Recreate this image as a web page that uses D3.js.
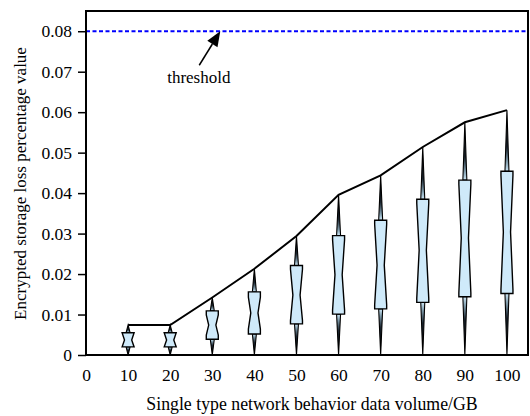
<!DOCTYPE html>
<html><head><meta charset="utf-8">
<script src="https://cdn.jsdelivr.net/npm/d3@7"></script>
<style>
html,body{margin:0;padding:0;background:#fff;}
</style></head>
<body><svg id="chart" width="530" height="416"></svg>
<script>
// ---- data ----
const xs       = [10, 20, 30, 40, 50, 60, 70, 80, 90, 100];
const maxVals  = [0.0074, 0.0074, 0.0142, 0.0213, 0.0294, 0.0396, 0.0444, 0.0514, 0.0575, 0.0605];
const q3Vals   = [0.0055, 0.0055, 0.0109, 0.0156, 0.0221, 0.0295, 0.0333, 0.0385, 0.0432, 0.0454];
const notchHi  = [0.0055, 0.0055, 0.0099, 0.0143, 0.0212, 0.0285, 0.0323, 0.0375, 0.0422, 0.0444];
const medVals  = [0.0037, 0.0037, 0.0074, 0.0104, 0.0148, 0.0198, 0.0222, 0.0259, 0.0289, 0.0304];
const notchLo  = [0.0020, 0.0020, 0.0049, 0.0064, 0.0085, 0.0111, 0.0124, 0.0140, 0.0154, 0.0162];
const q1Vals   = [0.0020, 0.0020, 0.0039, 0.0052, 0.0077, 0.0101, 0.0114, 0.0130, 0.0144, 0.0152];
const minVals  = [0, 0, 0, 0, 0, 0, 0, 0, 0, 0];
const threshold = 0.08;
const xTicks = [0, 10, 20, 30, 40, 50, 60, 70, 80, 90, 100];
const yTicks = [0, 0.01, 0.02, 0.03, 0.04, 0.05, 0.06, 0.07, 0.08];
const arrowTail = [26.9, 0.0716];
const arrowTip  = [31.9, 0.08];
const labelPos  = [26.8, 0.0672];
const xTitle = "Single type network behavior data volume/GB";
const yTitle = "Encrypted storage loss percentage value";

// ---- layout ----
const L = 86, R = 528, T = 11, B = 355;
const FONT = '"Liberation Serif"';
const FS = 17.5;
const svg = d3.select("#chart");
const x = d3.scaleLinear().domain([0, 105]).range([L, R]);
const y = d3.scaleLinear().domain([0, 0.085]).range([B, T]);

const defs = svg.append("defs");
function grad(id, tipTop) {
  const g = defs.append("linearGradient").attr("id", id)
    .attr("x1", 0).attr("y1", 0).attr("x2", 0).attr("y2", 1);
  const stops = tipTop
    ? [[0, "#000"], [0.6, "#1a2530"], [0.85, "#7f9bab"], [1, "#cfeafa"]]
    : [[0, "#cfeafa"], [0.15, "#7f9bab"], [0.4, "#1a2530"], [1, "#000"]];
  stops.forEach(s => g.append("stop").attr("offset", s[0]).attr("stop-color", s[1]));
}
grad("gTop", true);
grad("gBot", false);

// threshold
svg.append("line")
  .attr("x1", L).attr("x2", R).attr("y1", y(threshold)).attr("y2", y(threshold))
  .attr("stroke", "#0000ff").attr("stroke-width", 2).attr("stroke-dasharray", "4,2.5");

// max line
svg.append("path")
  .datum(xs.map((d, i) => [d, maxVals[i]]))
  .attr("d", d3.line().x(d => x(d[0])).y(d => y(d[1])))
  .attr("fill", "none").attr("stroke", "#000").attr("stroke-width", 2);

const boxHalf = 6, narrowHalf = 3.6, whHalf = 2;
const g = svg.append("g");
xs.forEach((v, i) => {
  const cx = x(v);
  g.append("path")
    .attr("d", `M${cx - whHalf},${y(q3Vals[i])}L${cx},${y(maxVals[i])}L${cx + whHalf},${y(q3Vals[i])}Z`)
    .attr("fill", "url(#gTop)").attr("stroke", "#000").attr("stroke-width", 1.1);
  g.append("path")
    .attr("d", `M${cx - whHalf},${y(q1Vals[i])}L${cx},${y(minVals[i])}L${cx + whHalf},${y(q1Vals[i])}Z`)
    .attr("fill", "url(#gBot)").attr("stroke", "#000").attr("stroke-width", 1.1);
  const pts = [
    [cx - boxHalf, y(q1Vals[i])], [cx - boxHalf, y(notchLo[i])], [cx - narrowHalf, y(medVals[i])],
    [cx - boxHalf, y(notchHi[i])], [cx - boxHalf, y(q3Vals[i])],
    [cx + boxHalf, y(q3Vals[i])], [cx + boxHalf, y(notchHi[i])], [cx + narrowHalf, y(medVals[i])],
    [cx + boxHalf, y(notchLo[i])], [cx + boxHalf, y(q1Vals[i])]
  ];
  g.append("path").attr("d", "M" + pts.map(p => p.join(",")).join("L") + "Z")
    .attr("fill", "#cfeafa").attr("stroke", "#000").attr("stroke-width", 1.4);
});

// frame
svg.append("rect").attr("x", L).attr("y", T).attr("width", R - L).attr("height", B - T)
  .attr("fill", "none").attr("stroke", "#000").attr("stroke-width", 2);

// y axis
const yAxis = d3.axisLeft(y).tickValues(yTicks).tickSize(8).tickPadding(6)
  .tickFormat(d => d === 0 ? "0" : d.toFixed(2));
const ya = svg.append("g").attr("transform", `translate(${L},0)`).call(yAxis)
  .attr("font-family", null).attr("font-size", null);
ya.select(".domain").remove();
ya.selectAll("line").attr("stroke", "#000").attr("stroke-width", 1.5);
ya.selectAll("text").style("font-family", FONT).style("font-size", FS + "px").attr("fill", "#000");

// x axis (labels only)
const xAxis = d3.axisBottom(x).tickValues(xTicks).tickSize(0).tickPadding(14);
const xa = svg.append("g").attr("transform", `translate(0,${B})`).call(xAxis)
  .attr("font-family", null).attr("font-size", null);
xa.select(".domain").remove();
xa.selectAll("text").style("font-family", FONT).style("font-size", FS + "px").attr("fill", "#000");

// titles
svg.append("text").attr("x", (L + R) / 2 + 5).attr("y", 410).attr("text-anchor", "middle")
  .style("font-family", FONT).style("font-size", "17.8px").text(xTitle);
svg.append("text").attr("transform", `translate(26,${183.5}) rotate(-90)`).attr("text-anchor", "middle")
  .style("font-family", FONT).style("font-size", "17px").text(yTitle);

// annotation
const tx = x(arrowTail[0]), ty = y(arrowTail[1]), hx = x(arrowTip[0]), hy = y(arrowTip[1]);
const ang = Math.atan2(hy - ty, hx - tx);
const headLen = 15, headW = 6;
const bx = hx - headLen * Math.cos(ang), by = hy - headLen * Math.sin(ang);
svg.append("line").attr("x1", tx).attr("y1", ty).attr("x2", bx).attr("y2", by)
  .attr("stroke", "#000").attr("stroke-width", 1.5);
svg.append("path")
  .attr("d", `M${hx},${hy}L${bx + headW * Math.sin(ang)},${by - headW * Math.cos(ang)}L${bx - headW * Math.sin(ang)},${by + headW * Math.cos(ang)}Z`)
  .attr("fill", "#000");
svg.append("text").attr("x", x(labelPos[0])).attr("y", y(labelPos[1])).attr("text-anchor", "middle")
  .style("font-family", FONT).style("font-size", "17px").text("threshold");
</script></body></html>
